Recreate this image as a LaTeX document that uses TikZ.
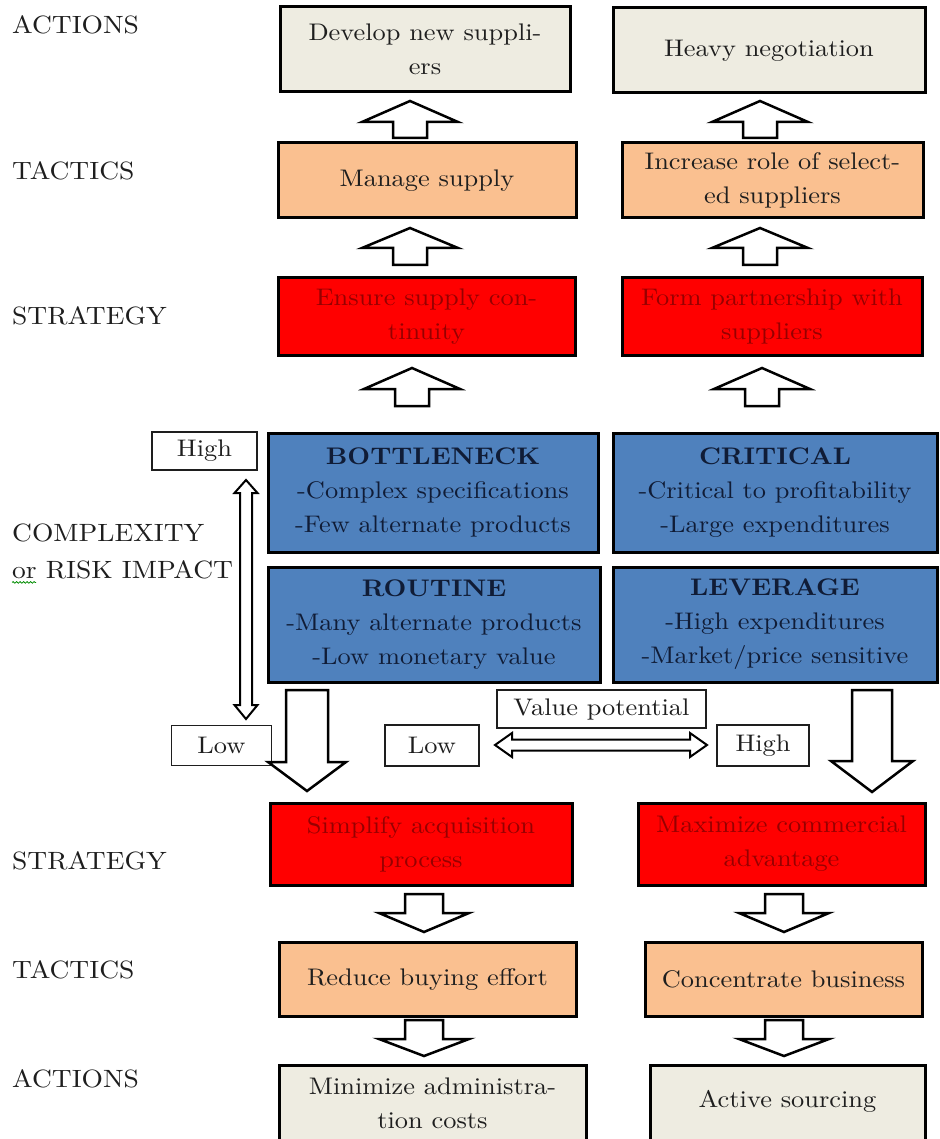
\documentclass[tikz,border=0pt]{standalone}
\usepackage{fontspec}
\setmainfont{lmroman10-regular.otf}[BoldFont=lmroman10-bold.otf, FakeStretch=1.1]
\usetikzlibrary{decorations.pathmorphing}
\definecolor{beige}{HTML}{EEECE1}
\definecolor{tacfill}{HTML}{FAC090}
\definecolor{redfill}{HTML}{FF0000}
\definecolor{redtext}{HTML}{960000}
\definecolor{bluefill}{HTML}{4F81BD}
\definecolor{navy}{HTML}{101C36}
\definecolor{ink}{HTML}{1E1E1E}
\newcommand{\figfont}{\fontsize{24}{34}\selectfont}
\newcommand{\sidefont}{\fontsize{25}{34}\selectfont}
% block arrow: centre x, tip y, head-base y, tail y, half head width, half shaft width
\newcommand{\blockarr}[6]{\draw[blockarrow] (#1,#2) -- ({#1+#5},#3) -- ({#1+#6},#3) -- ({#1+#6},#4) -- ({#1-#6},#4) -- ({#1-#6},#3) -- ({#1-#5},#3) -- cycle;}
\tikzset{
  every node/.style={font=\figfont, text=ink},
  box/.style={draw=black, line width=3pt, align=center, inner sep=0pt},
  actbox/.style={box, fill=beige},
  tacbox/.style={box, fill=tacfill},
  strbox/.style={box, fill=redfill, text=redtext},
  quadbox/.style={box, fill=bluefill, text=navy},
  lblbox/.style={draw=ink, line width=1.3pt, fill=white, inner sep=0pt},
  sidelbl/.style={anchor=west, inner sep=0pt, align=left, font=\sidefont},
  blockarrow/.style={draw=black, line width=2.5pt, fill=white, line join=miter},
}
\begin{document}
\begin{tikzpicture}[x=1pt,y=-1pt]
\useasboundingbox (0,0) rectangle (939,1139);
\clip (0,0) rectangle (939,1139);
\fill[white] (0,0) rectangle (939,1139);

% side labels
\node[sidelbl] (lac1) at (12,24.5) {ACTIONS};
\node[sidelbl] (ltc1) at (12,170.5) {TACTICS};
\node[sidelbl] (lst1) at (12,316) {STRATEGY};
\node[sidelbl] (lcx1) at (12,533) {COMPLEXITY};
\node[sidelbl] (lcx2) at (12,570) {or RISK IMPACT};
\node[sidelbl] (lst2) at (12,861) {STRATEGY};
\node[sidelbl] (ltc2) at (12,970) {TACTICS};
\node[sidelbl] (lac2) at (12,1079) {ACTIONS};
\draw[green!55!black, line width=0.8pt, decorate, decoration={snake, amplitude=0.8pt, segment length=3.5pt}]
  ([yshift=-3pt]lcx2.south west) -- ++(24,0);

% top half boxes
\node[actbox, minimum width=290pt, minimum height=85pt] (a1) at (425,49.5) {Develop new suppli-\\ers};
\node[actbox, minimum width=312pt, minimum height=85pt] (a2) at (769,50.5) {Heavy negotiation};
\node[tacbox, minimum width=298pt, minimum height=75pt] (t1) at (427,180.5) {Manage supply};
\node[tacbox, minimum width=301pt, minimum height=75pt] (t2) at (772.5,180.5) {Increase role of select-\\ed suppliers};
\node[strbox, minimum width=297pt, minimum height=77pt] (s1) at (426.5,316.5) {Ensure supply con-\\tinuity};
\node[strbox, minimum width=300pt, minimum height=77pt] (s2) at (772,316.5) {Form partnership with\\suppliers};

% up arrows
\blockarr{410}{101}{122}{138}{48}{17}
\blockarr{760}{101}{122}{138}{48}{17}
\blockarr{410}{228}{248}{265}{48}{17}
\blockarr{760}{228}{248}{265}{48}{17}
\blockarr{412}{368}{389}{406}{48}{17}
\blockarr{762}{368}{389}{406}{48}{17}

% matrix quadrants
\node[quadbox, minimum width=330pt, minimum height=119pt] (qb) at (433,492.5) {\textbf{BOTTLENECK}\\-Complex specifications\\-Few alternate products};
\node[quadbox, minimum width=324pt, minimum height=119pt] (qc) at (775,492.5) {\textbf{CRITICAL}\\-Critical to profitability\\-Large expenditures};
\node[quadbox, minimum width=332pt, minimum height=115pt] (qr) at (434,624.5) {\textbf{ROUTINE}\\-Many alternate products\\-Low monetary value};
\node[quadbox, minimum width=324pt, minimum height=115pt] (ql) at (775,624.5) {\textbf{LEVERAGE}\\-High expenditures\\-Market/price sensitive};

% axis labels
\node[lblbox, minimum width=105pt, minimum height=38pt] (hi1) at (204.5,451) {High};
\node[lblbox, minimum width=100pt, minimum height=40pt] (lo1) at (221.5,745.5) {Low};
\node[lblbox, minimum width=94pt, minimum height=41pt] (lo2) at (432,745.5) {Low};
\node[lblbox, minimum width=209pt, minimum height=38pt] (vp) at (601.5,709) {Value potential};
\node[lblbox, minimum width=92pt, minimum height=41pt] (hi2) at (763,745.5) {High};

% vertical double arrow
\draw[blockarrow, line width=2pt] (246,480) -- (257.5,493) -- (252,493) -- (252,705) -- (257.5,705) -- (246,719)
  -- (234.5,705) -- (240,705) -- (240,493) -- (234.5,493) -- cycle;
% horizontal double arrow
\draw[blockarrow, line width=2pt] (495,745) -- (512,733) -- (512,739.5) -- (690,739.5) -- (690,733) -- (707,745)
  -- (690,757) -- (690,750.5) -- (512,750.5) -- (512,757) -- cycle;

% big down arrows
\blockarr{307}{791}{762}{690}{39}{21}
\blockarr{872}{792}{761}{690}{41}{20}

% bottom half boxes
\node[strbox, minimum width=302pt, minimum height=82pt] (s3) at (421,844) {Simplify acquisition\\process};
\node[strbox, minimum width=287pt, minimum height=82pt] (s4) at (781.5,844) {Maximize commercial\\advantage};
\node[tacbox, minimum width=297pt, minimum height=74pt] (t3) at (427.5,979) {Reduce buying effort};
\node[tacbox, minimum width=277pt, minimum height=74pt] (t4) at (783.5,979) {Concentrate business};
\node[actbox, minimum width=307pt, minimum height=85pt] (a3) at (432.5,1107.5) {};
\node[actbox, minimum width=275pt, minimum height=85pt] (a4) at (787.5,1107.5) {};
\node[align=center, inner sep=0pt] (a3t) at (432.5,1103) {Minimize administra-\\tion costs};
\node[inner sep=0pt] (a4t) at (787.5,1101) {Active sourcing};

% down arrows
\blockarr{424}{932}{913}{894}{45}{19}
\blockarr{784}{932}{913}{894}{45}{19}
\blockarr{424}{1056}{1039}{1020}{45}{19}
\blockarr{784}{1056}{1039}{1020}{45}{19}
\end{tikzpicture}
\end{document}
